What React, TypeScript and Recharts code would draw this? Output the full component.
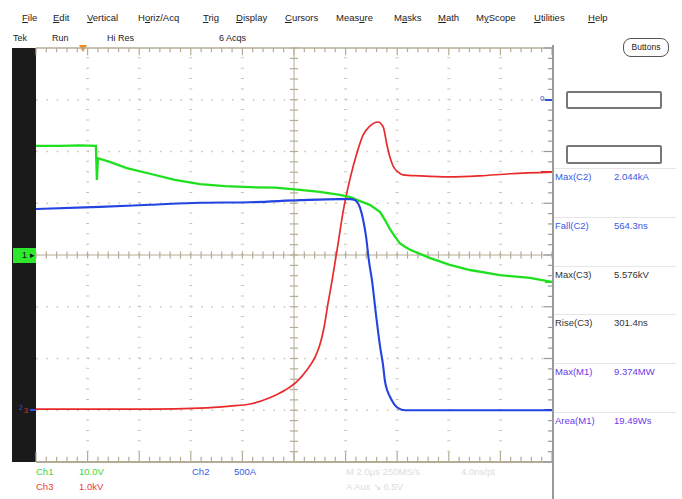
import { LineChart, Line, XAxis, YAxis, ReferenceLine } from "recharts";

// --- trace data, in screen divisions (x: 0..10, y: -4..4) ---
const greenX = [0, 0.47, 0.85, 1.16, 1.18, 1.2, 1.43, 1.76, 2.21, 2.69, 3.18, 3.66, 4.15, 4.63, 5.12, 5.5, 5.89, 6.09, 6.28, 6.47, 6.67, 6.76, 6.86, 6.96, 7.05, 7.15, 7.25, 7.64, 8.02, 8.41, 8.99, 9.57, 10];
const greenY = [2.11, 2.11, 2.12, 2.11, 1.45, 1.87, 1.8, 1.68, 1.57, 1.45, 1.37, 1.33, 1.31, 1.3, 1.26, 1.22, 1.16, 1.12, 1.04, 0.97, 0.83, 0.68, 0.5, 0.35, 0.23, 0.16, 0.1, -0.06, -0.19, -0.29, -0.39, -0.44, -0.52];

const blueX = [0, 1.24, 2.21, 3.18, 4.15, 5.12, 5.89, 6.09, 6.18, 6.28, 6.34, 6.4, 6.45, 6.51, 6.59, 6.67, 6.73, 6.76, 6.82, 6.86, 6.94, 7.02, 7.15, 8.02, 8.99, 10];
const blueY = [0.89, 0.93, 0.97, 1.01, 1.02, 1.06, 1.08, 1.08, 1.06, 0.91, 0.68, 0.33, -0.1, -0.48, -1.16, -1.78, -2.16, -2.42, -2.65, -2.74, -2.88, -2.96, -3.0, -3.0, -3.0, -3.0];

const redX = [0, 2.21, 3.18, 3.76, 4.15, 4.53, 4.83, 5.06, 5.25, 5.41, 5.5, 5.58, 5.66, 5.74, 5.85, 5.95, 6.09, 6.22, 6.34, 6.47, 6.63, 6.73, 6.8, 6.86, 6.92, 7.02, 7.11, 7.44, 8.02, 8.6, 9.19, 10];
const redY = [-2.98, -2.98, -2.96, -2.92, -2.88, -2.76, -2.61, -2.44, -2.22, -1.97, -1.74, -1.41, -0.93, -0.48, 0.19, 0.83, 1.49, 1.97, 2.32, 2.49, 2.57, 2.47, 2.13, 1.89, 1.72, 1.6, 1.55, 1.53, 1.51, 1.53, 1.57, 1.6];

// graticule
const gridX = [1, 2, 3, 4, 6, 7, 8, 9];
const gridY = [-3, -2, -1, 1, 2, 3];

// menu + readouts
const menuItems = ["File", "Edit", "Vertical", "Horiz/Acq", "Trig", "Display", "Cursors", "Measure", "Masks", "Math", "MyScope", "Utilities", "Help"];
const menuUnderline = [0, 0, 0, 1, 0, 0, 0, 4, 1, 0, 1, 0, 0];
const menuLeft = [22, 53, 87, 138, 203, 236, 285, 336, 394, 438, 476, 534, 588];

const measLabels = ["Max(C2)", "Fall(C2)", "Max(C3)", "Rise(C3)", "Max(M1)", "Area(M1)"];
const measValues = ["2.044kA", "564.3ns", "5.576kV", "301.4ns", "9.374MW", "19.49Ws"];
const measColors = ["#3a5ae8", "#3a5ae8", "#333333", "#333333", "#6a3ae8", "#6a3ae8"];

const toPoints = (xs: number[], ys: number[]) => xs.map((x, i) => ({ x, y: ys[i] }));

const GRID = "#cbc4b2";
const AXIS = "#b4ac96";

const minorX = Array.from({ length: 51 }, (_, i) => +(i * 0.2).toFixed(2));
const minorY = Array.from({ length: 41 }, (_, i) => +(-4 + i * 0.2).toFixed(2));
const isMajor = (v: number) => Math.abs(v - Math.round(v)) < 0.001;

const Txt = ({ left, top, color = "#222", size = 10, children }: any) => (
  <div style={{ position: "absolute", left, top, color, fontSize: size, lineHeight: `${size + 2}px`, whiteSpace: "nowrap" }}>
    {children}
  </div>
);

export default function App() {
  const seg = (key: string, x1: number, y1: number, x2: number, y2: number, color = AXIS, w = 1.2) => (
    <ReferenceLine
      key={key}
      segment={[{ x: x1, y: y1 }, { x: x2, y: y2 }]}
      stroke={color}
      strokeWidth={w}
      ifOverflow="visible"
    />
  );

  return (
    <div style={{ position: "absolute", left: 0, top: 0, width: 682, height: 499, background: "#fff", overflow: "hidden", fontFamily: "'Liberation Sans', Arial, sans-serif" }}>
      {/* menu bar */}
      {menuItems.map((m, i) => (
        <Txt key={m} left={menuLeft[i]} top={12} size={9.5}>
          {m.slice(0, menuUnderline[i])}
          <u>{m[menuUnderline[i]]}</u>
          {m.slice(menuUnderline[i] + 1)}
        </Txt>
      ))}
      <Txt left={13} top={33} size={9}>Tek</Txt>
      <Txt left={52} top={33} size={9}>Run</Txt>
      <Txt left={107} top={33} size={9}>Hi Res</Txt>
      <Txt left={219} top={33} size={9}>6 Acqs</Txt>
      <div style={{ position: "absolute", left: 623, top: 38, width: 44, height: 17, border: "1.5px solid #555", borderRadius: 8, fontSize: 8.5, lineHeight: "17px", textAlign: "center", color: "#222" }}>Buttons</div>

      {/* black left strip */}
      <div style={{ position: "absolute", left: 12, top: 48, width: 24, height: 414, background: "#1a1a1a" }} />
      <div style={{ position: "absolute", left: 13, top: 248, width: 23, height: 15, background: "#2ee82e", fontSize: 9, lineHeight: "15px", color: "#111", paddingLeft: 9, boxSizing: "border-box" }}>1 ▸</div>
      <Txt left={19} top={403} color="#3050e0" size={7}>2</Txt>
      <Txt left={24} top={406} color="#e03030" size={7}>3</Txt>
      <div style={{ position: "absolute", left: 30, top: 409, width: 6, height: 2, background: "#3050e0" }} />

      {/* trigger marker */}
      <div style={{ position: "absolute", left: 79, top: 45, width: 0, height: 0, borderLeft: "4px solid transparent", borderRight: "4px solid transparent", borderTop: "7px solid #f08a20" }} />

      <LineChart
        width={682}
        height={499}
        style={{ position: "absolute", left: 0, top: 0 }}
        margin={{ top: 48, left: 36, right: 130, bottom: 37 }}
      >
        <XAxis type="number" dataKey="x" domain={[0, 10]} hide allowDataOverflow />
        <YAxis type="number" dataKey="y" domain={[-4, 4]} hide allowDataOverflow />

        {gridX.map((v) => (
          <ReferenceLine key={`gx${v}`} x={v} stroke={GRID} strokeWidth={3} strokeDasharray="1 9.35" />
        ))}
        {gridY.map((v) => (
          <ReferenceLine key={`gy${v}`} y={v} stroke={GRID} strokeWidth={1.6} strokeDasharray="1.6 8.72" />
        ))}

        {/* center cross */}
        <ReferenceLine x={5} stroke={AXIS} strokeWidth={1} />
        <ReferenceLine y={0} stroke={AXIS} strokeWidth={1} />
        {minorX.map((v) => seg(`cx${v}`, v, -0.07, v, 0.07))}
        {minorY.map((v) => seg(`cy${v}`, 4.92, v, 5.08, v))}

        {/* rulers */}
        <ReferenceLine y={4} stroke={AXIS} strokeWidth={1.5} />
        <ReferenceLine y={-4} stroke={AXIS} strokeWidth={2} />
        {minorX.map((v) => seg(`tx${v}`, v, 4, v, isMajor(v) ? 3.86 : 3.92))}
        {minorX.map((v) => seg(`bx${v}`, v, -4, v, isMajor(v) ? -3.8 : -3.9))}
        {minorY.map((v) => seg(`ry${v}`, 10, v, isMajor(v) ? 9.84 : 9.92, v, "#9a9a9a"))}

        <Line data={toPoints(redX, redY)} dataKey="y" type="monotone" stroke="#e82a2a" strokeWidth={1.7} dot={false} isAnimationActive={false} />
        <Line data={toPoints(greenX, greenY)} dataKey="y" type="linear" stroke="#1fe01f" strokeWidth={2.3} dot={false} isAnimationActive={false} />
        <Line data={toPoints(blueX, blueY)} dataKey="y" type="monotone" stroke="#2244e0" strokeWidth={2.1} dot={false} isAnimationActive={false} />
      </LineChart>

      {/* right ruler edge */}
      <div style={{ position: "absolute", left: 552, top: 45, width: 2, height: 454, background: "#9a9a9a" }} />
      {/* level markers on right edge */}
      <Txt left={540} top={94} color="#3050e0" size={8}>0</Txt>
      <div style={{ position: "absolute", left: 545, top: 99, width: 7, height: 1.5, background: "#3050e0" }} />
      <div style={{ position: "absolute", left: 541, top: 171, width: 11, height: 1.5, background: "#e82a2a" }} />
      <div style={{ position: "absolute", left: 545, top: 281, width: 7, height: 1.5, background: "#1fe01f" }} />
      <div style={{ position: "absolute", left: 545, top: 409, width: 7, height: 1.5, background: "#2244e0" }} />

      {/* readout panel */}
      <div style={{ position: "absolute", left: 566, top: 91, width: 96, height: 18, border: "2px solid #777", borderRadius: 2, boxSizing: "border-box" }} />
      <div style={{ position: "absolute", left: 566, top: 145, width: 96, height: 19, border: "2px solid #777", borderRadius: 2, boxSizing: "border-box" }} />
      {measLabels.map((l, i) => (
        <div key={l}>
          <div style={{ position: "absolute", left: 554, top: 168 + i * 48.8, width: 122, height: 1, background: "#e6e6e6" }} />
          <Txt left={555} top={171 + i * 48.8} color={measColors[i]} size={9.5}>{l}</Txt>
          <Txt left={614} top={171 + i * 48.8} color={measColors[i]} size={9.5}>{measValues[i]}</Txt>
        </div>
      ))}

      {/* channel scale readouts */}
      <Txt left={36} top={466} color="#3ad83a" size={9.5}>Ch1</Txt>
      <Txt left={79} top={466} color="#3ad83a" size={9.5}>10.0V</Txt>
      <Txt left={36} top={481} color="#f03a3a" size={9.5}>Ch3</Txt>
      <Txt left={79} top={481} color="#f03a3a" size={9.5}>1.0kV</Txt>
      <Txt left={192} top={466} color="#3a5ae8" size={9.5}>Ch2</Txt>
      <Txt left={234} top={466} color="#3a5ae8" size={9.5}>500A</Txt>
      <Txt left={346} top={466} color="#dcdcdc" size={9.5}>M 2.0μs 250MS/s</Txt>
      <Txt left={461} top={466} color="#dcdcdc" size={9.5}>4.0ns/pt</Txt>
      <Txt left={346} top={481} color="#dcdcdc" size={9.5}>A  Aux  ↘  6.5V</Txt>
    </div>
  );
}
